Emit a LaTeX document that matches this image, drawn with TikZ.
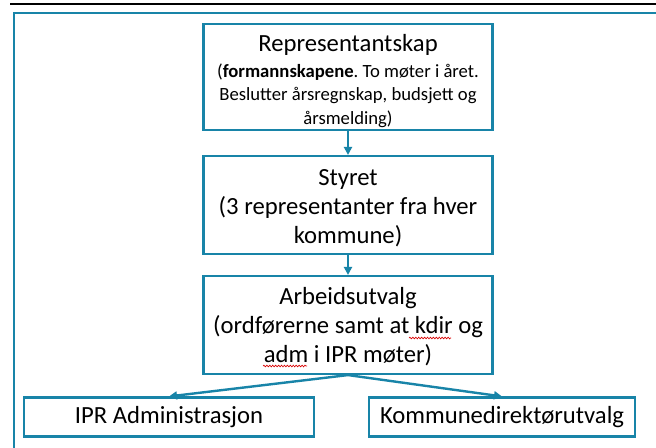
\documentclass[tikz,border=0pt]{standalone}
\usepackage{fontspec}
\setmainfont{Carlito}
\usetikzlibrary{arrows.meta,decorations.pathmorphing}
\definecolor{frameblue}{RGB}{24,132,168}
\frenchspacing
\tikzset{
  orgbox/.style={draw=frameblue, line width=1.6pt, inner sep=0pt, anchor=center},
  boxtext/.style={inner sep=0pt, align=center, anchor=center},
  conn/.style={draw=frameblue, line width=1.8pt, -{Triangle[length=6pt,width=6pt]}},
  spell/.style={draw=red!85!black, line width=0.5pt, decorate, decoration={snake, amplitude=0.6pt, segment length=2.2pt}},
}
\begin{document}
\begin{tikzpicture}[x=0.75pt,y=-0.75pt]
\useasboundingbox (0,0) rectangle (656,447);
\fill[white] (0,0) rectangle (656,447);
\draw[line width=2.2pt, black] (10,4) -- (656,4);
\draw[frameblue, line width=1.6pt] (14,450) -- (14,13) -- (660,13);
\node[orgbox, minimum width=289*0.75pt, minimum height=106*0.75pt] (rep) at (348,77) {};
\node[orgbox, minimum width=289*0.75pt, minimum height=98*0.75pt] (sty) at (348,205) {};
\node[orgbox, minimum width=289*0.75pt, minimum height=98*0.75pt] (arb) at (348,325) {};
\node[orgbox, minimum width=290*0.75pt, minimum height=39*0.75pt] (ipr) at (169,417) {};
\node[orgbox, minimum width=266*0.75pt, minimum height=39*0.75pt] (kom) at (502,417) {};
\node[boxtext, font=\fontsize{14}{17.4}\selectfont] (reptxt) at ([yshift=-4*0.75pt]rep.center)
 {{\fontsize{18.5}{21}\selectfont Representantskap}\\[2pt]
  (\textbf{formannskapene}. To møter i året.\\ Beslutter årsregnskap, budsjett og\\ årsmelding)};
\node[boxtext, font=\fontsize{18.5}{21.75}\selectfont] (stytxt) at ([yshift=-3*0.75pt]sty.center)
 {Styret\\ (3 representanter fra hver\\ kommune)};
\node[boxtext, font=\fontsize{18.5}{21.75}\selectfont] (arbtxt) at ([yshift=-2*0.75pt]arb.center)
 {Arbeidsutvalg\\ (ordførerne samt at kdir og\\ adm i IPR møter)};
\node[boxtext, font=\fontsize{18.5}{21}\selectfont] (iprtxt) at (ipr.center) {IPR Administrasjon};
\node[boxtext, font=\fontsize{18.5}{21}\selectfont] (komtxt) at (kom.center) {Kommunedirektørutvalg};
\coordinate (w1a) at (409,338); \coordinate (w1b) at (451,338);
\coordinate (w2a) at (263,366); \coordinate (w2b) at (307,366);
\draw[spell] (w1a) -- (w1b);
\draw[spell] (w2a) -- (w2b);
\draw[conn] (rep.south) -- (sty.north);
\draw[conn] (sty.south) -- (arb.north);
\draw[conn] (arb.south) -- (ipr.north);
\draw[conn] (arb.south) -- (kom.north);
\end{tikzpicture}
\end{document}
